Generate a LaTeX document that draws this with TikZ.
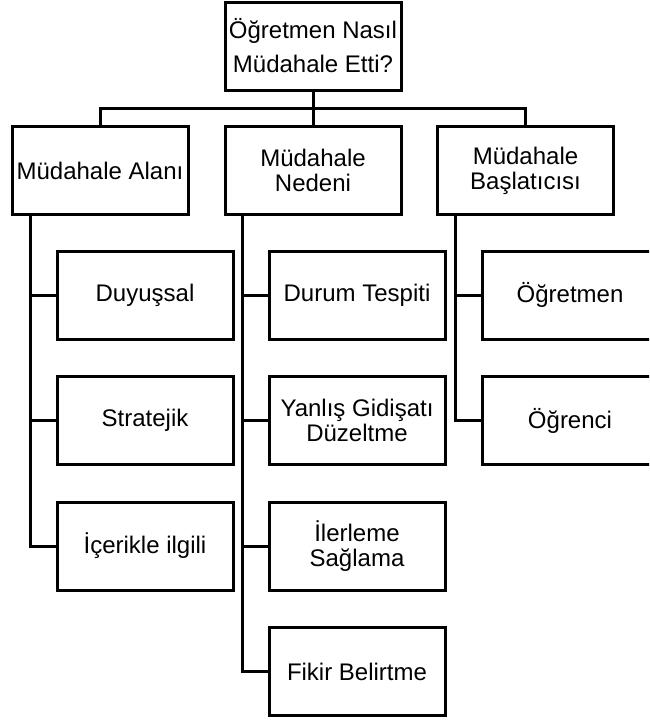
\documentclass[tikz,border=0pt]{standalone}
\usepackage{fontspec}
\setmainfont{Liberation Sans}
\begin{document}
\begin{tikzpicture}[x=1pt,y=-1pt,
  box/.style={draw=black, line width=3pt, fill=white, rectangle,
    minimum width=176pt, minimum height=88pt, inner sep=0pt,
    align=center, font=\fontsize{24}{25}\selectfont},
  link/.style={draw=black, line width=3pt}]
\useasboundingbox (0,0) rectangle (649,720);
\clip (0,0) rectangle (649,720);

% root
\node[box, font=\fontsize{24}{34}\selectfont] (root) at (313,46) {Öğretmen Nasıl\\Müdahale Etti?};

% second level
\node[box] (alan) at (100,170.5) {Müdahale Alanı};
\node[box] (neden) at (313,170.5) {Müdahale\\Nedeni};
\node[box] (bas) at (525.5,170.5) {Müdahale\\Başlatıcısı};

% children of "Müdahale Alanı"
\node[box] (a1) at (145,295) {Duyuşsal};
\node[box] (a2) at (145,420.5) {Stratejik};
\node[box] (a3) at (145,546) {İçerikle ilgili};

% children of "Müdahale Nedeni"
\node[box] (n1) at (357,295) {Durum Tespiti};
\node[box] (n2) at (357,420.5) {Yanlış Gidişatı\\Düzeltme};
\node[box] (n3) at (357,546) {İlerleme\\Sağlama};
\node[box] (n4) at (357,671.5) {Fikir Belirtme};

% children of "Müdahale Başlatıcısı"
\node[box] (b1) at (570,295) {Öğretmen};
\node[box] (b2) at (570,420.5) {Öğrenci};

% bus under the root
\coordinate (bus) at (100,108);
\draw[link] (root.south) -- (root.south |- bus);
\draw[link] (alan.north) -- (alan.north |- bus) -| (bas.north);
\draw[link] (neden.north) -- (neden.north |- bus);

% trunks to the leaves
\coordinate (ta) at ([xshift=-70pt]alan.south);
\coordinate (tn) at ([xshift=-71pt]neden.south);
\coordinate (tb) at ([xshift=-70pt]bas.south);
\draw[link] (ta) |- (a3.west);
\draw[link] (a1.west) -- (a1.west -| ta);
\draw[link] (a2.west) -- (a2.west -| ta);
\draw[link] (tn) |- (n4.west);
\draw[link] (n1.west) -- (n1.west -| tn);
\draw[link] (n2.west) -- (n2.west -| tn);
\draw[link] (n3.west) -- (n3.west -| tn);
\draw[link] (tb) |- (b2.west);
\draw[link] (b1.west) -- (b1.west -| tb);
\end{tikzpicture}
\end{document}
